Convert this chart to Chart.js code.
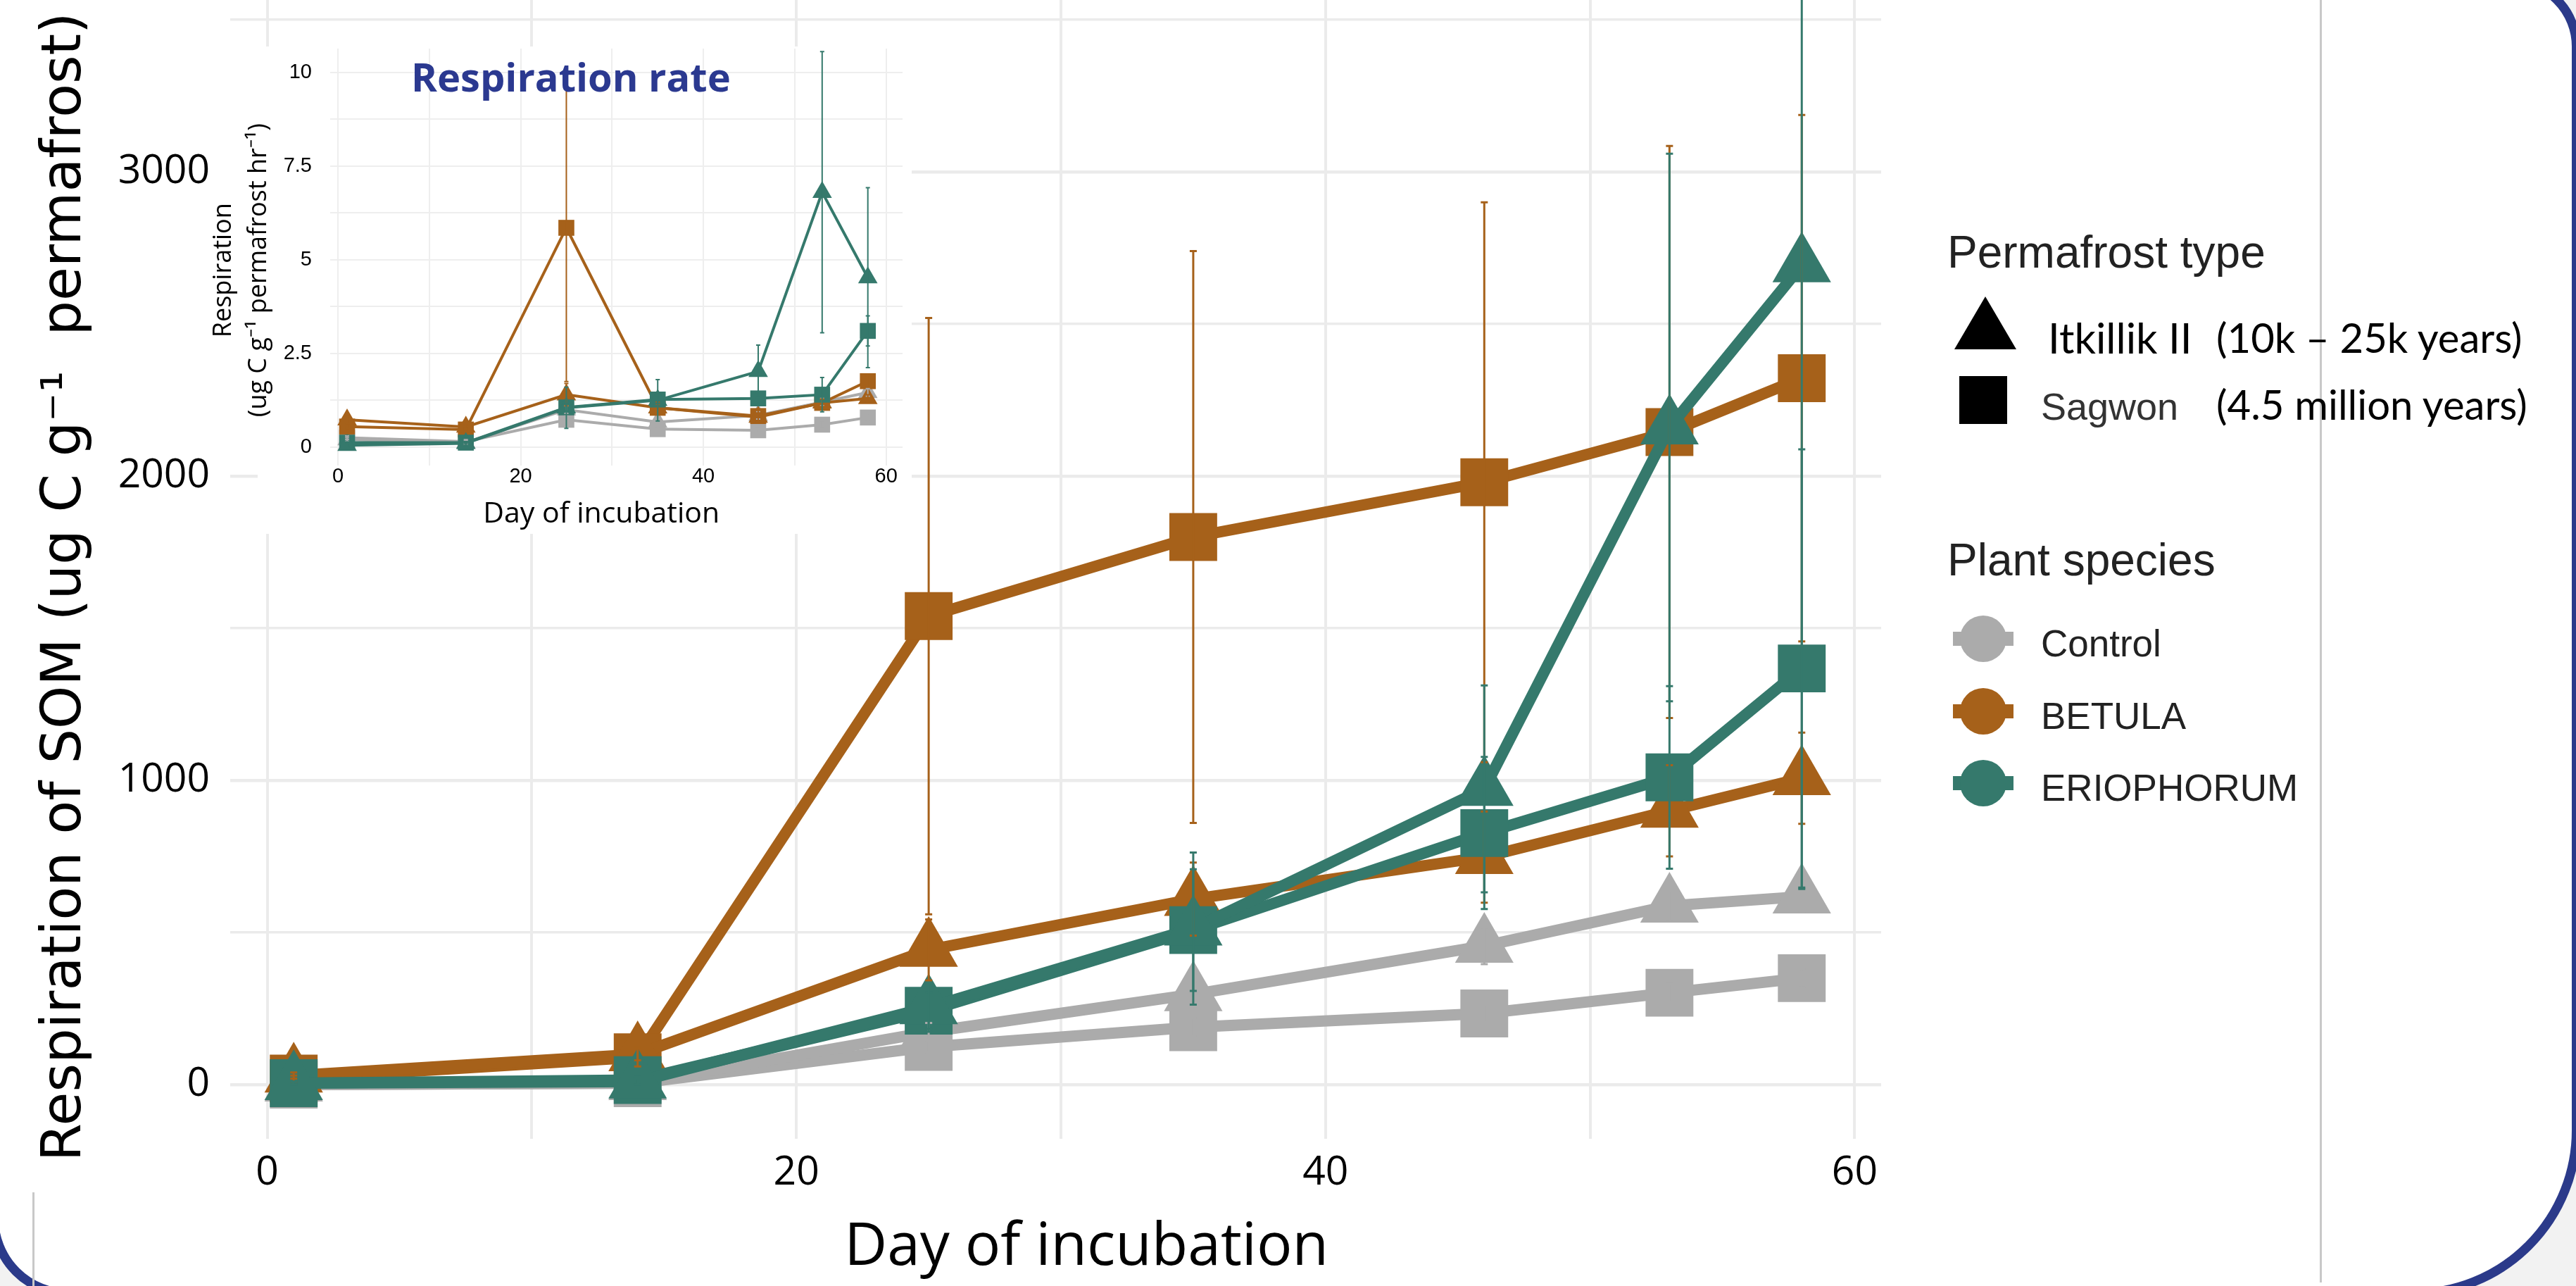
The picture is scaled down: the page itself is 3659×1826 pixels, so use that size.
<!DOCTYPE html>
<html>
<head>
<meta charset="utf-8">
<script src="https://cdn.jsdelivr.net/npm/chart.js@4.4.1/dist/chart.umd.min.js"></script>
<style>
  html, body { margin: 0; padding: 0; }
  body { width: 3659px; height: 1826px; overflow: hidden; position: relative; background: #f2f2f2; font-family: 'Liberation Sans', Arial, sans-serif; }
  #slide { position: absolute; left: -15px; top: -34px; width: 3681px; height: 1877px; box-sizing: border-box;
           border: 13px solid #2b3a8a; border-radius: 0 100px 238px 113px; background: #fff; }
  .rule { position: absolute; width: 3px; background: #c8c8c8; }
  canvas { position: absolute; }
  #main { left: 0; top: 0; }
  #inset { left: 290px; top: 66px; }
  .lg { position: absolute; line-height: 1; white-space: nowrap; color: #222; }
  .lato { font-family: Lato, 'Open Sans', sans-serif; color: #000; }
  .key { position: absolute; }
  #insetTitle { position: absolute; left: 584px; top: 80px; font-family: 'Open Sans', sans-serif; font-weight: 700;
                font-size: 56px; line-height: 1; color: #2b3990; white-space: nowrap; }
</style>
</head>
<body>
<div id="slide"></div>
<div class="rule" style="left:3295px;top:0;height:1821px"></div>
<div class="rule" style="left:46px;top:1693px;height:133px"></div>

<canvas id="main" width="3659" height="1826"></canvas>
<canvas id="inset" width="1005" height="692"></canvas>
<div id="insetTitle">Respiration rate</div>

<!-- legend -->
<div class="lg" style="left:2766px;top:326px;font-size:64px">Permafrost type</div>
<div class="key" style="left:2776px;top:421px;width:88px;height:75px;background:#000;clip-path:polygon(50% 0,100% 100%,0 100%)"></div>
<div class="lg lato" style="left:2909px;top:449px;font-size:60px">Itkillik II</div>
<div class="lg lato" style="left:3148px;top:450px;font-size:58px">(10k – 25k years)</div>
<div class="key" style="left:2783px;top:534px;width:68px;height:68px;background:#000"></div>
<div class="lg" style="left:2899px;top:550px;font-size:54px;color:#333">Sagwon</div>
<div class="lg lato" style="left:3148px;top:545px;font-size:58px">(4.5 million years)</div>

<div class="lg" style="left:2766px;top:763px;font-size:64px">Plant species</div>
<div id="speciesKeys"></div>

<script>
// sampling days
const days = [1, 14, 25, 35, 46, 53, 58];

// cumulative respiration of SOM (ug C g-1 permafrost)
const controlItk = [0, 5, 173, 297, 456, 588, 618];
const controlSag = [0, 5, 124, 189, 234, 302, 350];
const betulaItk = [30, 100, 443, 610, 748, 900, 1007];
const betulaSag = [20, 90, 1540, 1800, 1980, 2145, 2322];
const erioItk = [5, 10, 254, 513, 972, 2160, 2693];
const erioSag = [5, 15, 243, 508, 827, 1010, 1368];

// standard errors
const controlItkSe = [0, 0, 30, 40, 60, 50, 50];
const controlSagSe = [0, 0, 20, 30, 30, 30, 30];
const betulaItkSe = [10, 20, 100, 120, 150, 150, 150];
const betulaSagSe = [10, 30, 980, 940, 920, 940, 865];
const erioItkSe = [5, 10, 80, 250, 340, 900, 2050];
const erioSagSe = [5, 10, 60, 200, 250, 300, 720];

// respiration rate (inset, ug C g-1 permafrost hr-1)
const rateControlItk = [0.2, 0.12, 1.0, 0.67, 0.85, 1.2, 1.46];
const rateControlSag = [0.25, 0.15, 0.73, 0.48, 0.45, 0.6, 0.79];
const rateBetulaItk = [0.73, 0.54, 1.4, 1.05, 0.8, 1.18, 1.3];
const rateBetulaSag = [0.55, 0.47, 5.85, 1.05, 0.83, 1.18, 1.76];
const rateErioItk = [0.05, 0.1, 1.05, 1.25, 2.02, 6.8, 4.52];
const rateErioSag = [0.12, 0.12, 1.06, 1.27, 1.3, 1.4, 3.1];

const rateControlItkSe = [0.05, 0.05, 0.1, 0.1, 0.1, 0.1, 0.1];
const rateControlSagSe = [0.05, 0.05, 0.1, 0.05, 0.05, 0.1, 0.1];
const rateBetulaItkSe = [0.1, 0.05, 0.3, 0.1, 0.1, 0.1, 0.1];
const rateBetulaSagSe = [0.05, 0.05, 4.1, 0.15, 0.15, 0.1, 0.15];
const rateErioItkSe = [0.05, 0.05, 0.55, 0.55, 0.7, 3.75, 2.4];
const rateErioSagSe = [0.02, 0.02, 0.1, 0.1, 0.15, 0.46, 0.4];

// axis ticks (gridlines); only some of them carry a label
const dayTicks = [0, 10, 20, 30, 40, 50, 60];
const respTicks = [0, 500, 1000, 1500, 2000, 2500, 3000, 3500];
const rateTicks = [0, 1.25, 2.5, 3.75, 5, 6.25, 7.5, 8.75, 10];

const species = ['Control', 'BETULA', 'ERIOPHORUM'];

const GREY = '#ababab';
const ORANGE = '#a6611a';
const TEAL = '#35796c';

const NB = '\u00a0\u00a0\u00a0\u00a0';

Chart.defaults.font.family = 'Open Sans';
Chart.defaults.color = '#000';

// species legend keys (point with a short line through it)
const keyBox = document.getElementById('speciesKeys');
[[GREY, 907], [ORANGE, 1010], [TEAL, 1112]].forEach(([c, cy], i) => {
  keyBox.insertAdjacentHTML('beforeend',
    `<div class="key" style="left:2774px;top:${cy - 10}px;width:86px;height:20px;background:${c}"></div>` +
    `<div class="key" style="left:2784px;top:${cy - 33}px;width:66px;height:66px;border-radius:50%;background:${c}"></div>` +
    `<div class="lg" style="left:2899px;top:${cy - 20}px;font-size:53px">${species[i]}</div>`);
});

// vertical error bars, drawn through the chart's own scales
const errorBars = {
  id: 'errorBars',
  afterDatasetsDraw(chart, args, opts) {
    const {ctx, chartArea, scales: {x, y}} = chart;
    ctx.save();
    ctx.beginPath();
    ctx.rect(chartArea.left, chartArea.top, chartArea.width, chartArea.height);
    ctx.clip();
    ctx.lineWidth = opts.width;
    const sets = [...chart.data.datasets].sort((a, b) => b.order - a.order);
    sets.forEach(ds => {
      ctx.strokeStyle = ds.borderColor;
      ds.data.forEach((p, i) => {
        const e = ds.errors[i];
        if (!e) return;
        const px = x.getPixelForValue(p.x);
        const lo = y.getPixelForValue(p.y - e);
        const hi = y.getPixelForValue(p.y + e);
        ctx.beginPath();
        ctx.moveTo(px, lo); ctx.lineTo(px, hi);
        ctx.moveTo(px - opts.cap, lo); ctx.lineTo(px + opts.cap, lo);
        ctx.moveTo(px - opts.cap, hi); ctx.lineTo(px + opts.cap, hi);
        ctx.stroke();
      });
    });
    ctx.restore();
  }
};

// white box under the inset so the main grid does not show through
const insetBackground = {
  id: 'insetBackground',
  beforeDraw(chart) {
    const {ctx, width, height} = chart;
    ctx.save();
    ctx.fillStyle = '#fff';
    ctx.fillRect(10, 0, width - 10, 594);
    ctx.fillRect(76, 594, width - 76, height - 594);
    ctx.restore();
  }
};

function series(values, errs, color, shape, order, radius, lineWidth) {
  return {
    data: days.map((d, i) => ({x: d, y: values[i]})),
    errors: errs,
    borderColor: color,
    backgroundColor: color,
    pointBackgroundColor: color,
    pointStyle: shape,
    pointRadius: radius,
    pointHoverRadius: radius,
    pointBorderWidth: 0,
    borderWidth: lineWidth,
    order: order
  };
}

function noPad(s) {
  s.paddingLeft = 0; s.paddingRight = 0; s.paddingTop = 0; s.paddingBottom = 0;
}

function useTicks(list) {
  return s => { s.ticks = list.map(v => ({value: v})); };
}

new Chart(document.getElementById('main'), {
  type: 'line',
  data: {
    datasets: [
      series(erioItk, erioItkSe, TEAL, 'triangle', 1, 48, 16),
      series(erioSag, erioSagSe, TEAL, 'rect', 2, 48, 16),
      series(betulaItk, betulaItkSe, ORANGE, 'triangle', 3, 48, 16),
      series(betulaSag, betulaSagSe, ORANGE, 'rect', 4, 48, 16),
      series(controlItk, controlItkSe, GREY, 'triangle', 5, 48, 16),
      series(controlSag, controlSagSe, GREY, 'rect', 6, 48, 16)
    ]
  },
  options: {
    responsive: false,
    animation: false,
    devicePixelRatio: 1,
    layout: {autoPadding: false, padding: {left: 0, top: 0, right: 987, bottom: 0}},
    plugins: {
      legend: {display: false},
      tooltip: {enabled: false},
      errorBars: {width: 3, cap: 5}
    },
    scales: {
      x: {
        type: 'linear',
        min: -1.4,
        max: 61,
        afterBuildTicks: useTicks(dayTicks),
        afterFit(s) { s.height = 209; noPad(s); },
        border: {display: false},
        grid: {color: '#ebebeb', lineWidth: 4, drawTicks: false},
        ticks: {
          autoSkip: false, maxRotation: 0, padding: 20,
          font: {size: 57, lineHeight: 1},
          callback: v => (v % 20 === 0 ? String(v) : '')
        },
        title: {
          display: true, text: NB + 'Day of incubation',
          font: {size: 84, lineHeight: 1},
          padding: {top: 0, bottom: 12}
        }
      },
      y: {
        type: 'linear',
        min: -178,
        max: 3565,
        afterBuildTicks: useTicks(respTicks),
        afterFit(s) { s.width = 327; noPad(s); },
        border: {display: false},
        grid: {color: '#ebebeb', lineWidth: c => (c.tick && c.tick.value % 1000 === 0 ? 4.5 : 3.5), drawTicks: false},
        ticks: {
          autoSkip: false, padding: 29,
          font: {size: 57, lineHeight: 1},
          callback: v => (v % 1000 === 0 ? String(v) : '')
        },
        title: {
          display: true, text: 'Respiration of SOM (ug C g⁻¹  permafrost)\u00a0\u00a0',
          font: {family: 'DejaVu Sans', size: 78, lineHeight: 1},
          padding: {top: 55, bottom: 0}
        }
      }
    }
  },
  plugins: [errorBars]
});

new Chart(document.getElementById('inset'), {
  type: 'line',
  data: {
    datasets: [
      series(rateErioItk, rateErioItkSe, TEAL, 'triangle', 1, 16, 4),
      series(rateErioSag, rateErioSagSe, TEAL, 'rect', 2, 16, 4),
      series(rateBetulaItk, rateBetulaItkSe, ORANGE, 'triangle', 3, 16, 4),
      series(rateBetulaSag, rateBetulaSagSe, ORANGE, 'rect', 4, 16, 4),
      series(rateControlItk, rateControlItkSe, GREY, 'triangle', 5, 16, 4),
      series(rateControlSag, rateControlSagSe, GREY, 'rect', 6, 16, 4)
    ]
  },
  options: {
    responsive: false,
    animation: false,
    devicePixelRatio: 1,
    layout: {autoPadding: false, padding: {left: 0, top: 3, right: 13, bottom: 0}},
    plugins: {
      legend: {display: false},
      tooltip: {enabled: false},
      errorBars: {width: 2, cap: 3}
    },
    scales: {
      x: {
        type: 'linear',
        min: -0.85,
        max: 61.8,
        afterBuildTicks: useTicks(dayTicks),
        afterFit(s) { s.height = 97; noPad(s); },
        border: {display: false},
        grid: {color: '#eeeeee', lineWidth: 2, drawTicks: false},
        ticks: {
          autoSkip: false, maxRotation: 0, padding: 1,
          font: {family: 'Liberation Sans', size: 29, lineHeight: 1},
          callback: v => (v % 20 === 0 ? String(v) : '')
        },
        title: {
          display: true, text: 'Day of incubation' + NB,
          font: {size: 41, lineHeight: 1},
          padding: {top: 0, bottom: 7.5}
        }
      },
      y: {
        type: 'linear',
        min: -0.49,
        max: 10.63,
        afterBuildTicks: useTicks(rateTicks),
        afterFit(s) { s.width = 179; noPad(s); },
        border: {display: false},
        grid: {color: '#eeeeee', lineWidth: 2, drawTicks: false},
        ticks: {
          autoSkip: false, padding: 26,
          font: {family: 'Liberation Sans', size: 29, lineHeight: 1},
          callback: v => (v % 2.5 === 0 ? String(v) : '')
        },
        title: {
          display: true, text: ['Respiration' + NB, '(ug C g⁻¹ permafrost hr⁻¹)' + NB],
          font: {size: 36, lineHeight: 1.39},
          padding: {top: 3, bottom: 0}
        }
      }
    }
  },
  plugins: [insetBackground, errorBars]
});
</script>
</body>
</html>
